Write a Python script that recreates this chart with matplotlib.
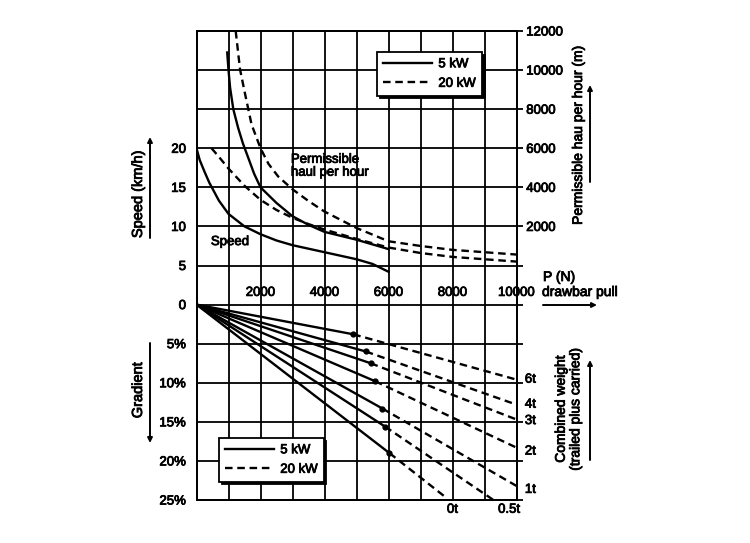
import matplotlib.pyplot as plt
import matplotlib.patheffects as pe
from matplotlib.lines import Line2D
from matplotlib.text import Text

# drawbar pull P (N) against speed (km/h)
pull_speed_5kw = [0, 100, 250, 400, 700, 1000, 1500, 2000, 2500, 3000, 4000, 5000, 5500, 6000]
speed_5kw = [20, 18.5, 17.0, 15.6, 13.3, 11.6, 10.0, 9.0, 8.2, 7.6, 6.7, 5.8, 5.2, 4.2]
pull_speed_20kw = [470, 700, 1000, 1500, 2000, 2500, 3000, 3500, 4000, 5000, 6000, 7000, 8000, 9000, 10000]
speed_20kw = [20, 18.9, 17.4, 15.2, 13.4, 12.1, 11.1, 10.3, 9.6, 8.4, 7.3, 6.6, 6.1, 5.8, 5.5]

# permissible haul per hour (m)
pull_haul_5kw = [960, 1000, 1050, 1150, 1300, 1450, 1620, 1800, 2000, 2500, 3000, 3500, 4000, 5000, 6000]
haul_5kw = [10900, 10000, 9100, 8000, 7050, 6250, 5500, 4700, 4000, 3200, 2520, 2080, 1720, 1320, 840]
pull_haul_20kw = [1225, 1360, 1520, 1720, 2000, 2250, 2550, 3000, 3500, 4000, 5000, 6000, 7000, 8000, 9000, 10000]
haul_20kw = [12000, 10040, 8760, 7220, 6000, 5200, 4560, 3900, 3300, 2760, 1920, 1240, 1000, 800, 680, 560]

# gradient (%) lines per combined weight: solid (5 kW) up to the dot, dashed (20 kW) after
weights = ['6t', '4t', '3t', '2t', '1t', '0.5t', '0t']
pull_switch = [4900, 5290, 5440, 5580, 5810, 5890, 6030]
grad_switch = [3.8, 6.0, 7.5, 9.8, 13.3, 15.6, 19.0]
pull_end = [10000, 10000, 10000, 10000, 10000, 9280, 7770]
grad_end = [9.6, 12.8, 14.7, 18.3, 23.2, 25.0, 24.6]
side_weights = ['6t', '4t', '3t', '2t', '1t']
side_weight_pos = [9.6, 12.8, 14.9, 18.8, 23.7]

speed_ticks = [0, 5, 10, 15, 20]
grad_ticks = [5, 10, 15, 20, 25]
haul_ticks = [2000, 4000, 6000, 8000, 10000, 12000]
pull_ticks = [2000, 4000, 6000, 8000, 10000]


def haul_y(h):
    # right scale: 0 m sits on speed 5, 2000 m per grid step
    return 5 + h / 400


plt.rcParams['font.family'] = ['Liberation Sans', 'DejaVu Sans']
plt.rcParams['font.size'] = 9.5

W, H = 750, 543
fig = plt.figure(figsize=(7.5, 5.43), dpi=100)
ax = fig.add_axes([196.5 / W, 43 / H, 320 / W, 469 / H])
ax.set_xlim(0, 10000)
ax.set_ylim(-25, 35)
ax.set_axisbelow(True)

gw = 1.3
ax.set_xticks(range(0, 10001, 1000))
ax.set_xticklabels([])
yt = list(range(-25, 36, 5))
ax.set_yticks(yt)
ax.set_yticklabels([f'{-v}%' if v < 0 else (str(v) if v <= 20 else '') for v in yt])
ax.tick_params(length=0)
ax.tick_params(axis='y', pad=7.5)
ax.grid(True, color='black', lw=gw)
for s in ax.spines.values():
    s.set_linewidth(gw)

ax2 = ax.twinx()
ax2.set_ylim(-25, 35)
ax2.set_yticks(yt)
ax2.set_yticklabels([str(h) if h in haul_ticks else '' for h in [(v - 5) * 400 for v in yt]])
ax2.tick_params(axis='y', direction='out', length=4, width=gw, pad=3)
for s in ax2.spines.values():
    s.set_linewidth(gw)

lw = 1.7
dash = (0, (3.2, 2.0))
ax.plot(pull_speed_5kw, speed_5kw, color='black', lw=lw)
ax.plot(pull_speed_20kw, speed_20kw, color='black', lw=lw, linestyle=dash)
ax.plot(pull_haul_5kw, [haul_y(h) for h in haul_5kw], color='black', lw=lw)
ax.plot(pull_haul_20kw, [haul_y(h) for h in haul_20kw], color='black', lw=lw, linestyle=dash)

for i in range(len(weights)):
    ax.plot([0, pull_switch[i]], [0, -grad_switch[i]], color='black', lw=lw)
    ax.plot([pull_switch[i], pull_end[i]], [-grad_switch[i], -grad_end[i]],
            color='black', lw=lw, linestyle=dash)
    ax.plot(pull_switch[i], -grad_switch[i], 'o', color='black', ms=3.5)

for p in pull_ticks:
    ax.text(p, 1.5, str(p), ha='center', va='center')

ax.text(2950, 17.7, 'Permissible\nhaul per hour', ha='left', va='center', linespacing=1.1)
ax.text(450, 8.0, 'Speed', ha='left', va='center')

for lab, g in zip(side_weights, side_weight_pos):
    ax.annotate(lab, xy=(1, -g), xycoords=('axes fraction', 'data'),
                xytext=(6, 0), textcoords='offset points', ha='left', va='center',
                annotation_clip=False)
ax.annotate('0t', xy=(8000, 0), xycoords=('data', 'axes fraction'), xytext=(0, -7),
            textcoords='offset points', ha='center', va='center', annotation_clip=False)
ax.annotate('0.5t', xy=(9770, 0), xycoords=('data', 'axes fraction'), xytext=(0, -7),
            textcoords='offset points', ha='center', va='center', annotation_clip=False)


def fp(x, y):
    return (x / W, 1 - y / H)


fig.text(*fp(138, 194), 'Speed (km/h)', rotation=90, ha='center', va='center', fontsize=10.5)
fig.text(*fp(138, 390), 'Gradient', rotation=90, ha='center', va='center', fontsize=10.5)
fig.text(*fp(578, 135), 'Permissible hau per hour (m)', rotation=90, ha='center', va='center',
         fontsize=10)
fig.text(*fp(568, 409), 'Combined weight\n(trailed plus carried)', rotation=90,
         ha='center', va='center', linespacing=1.05, fontsize=10)
fig.text(*fp(543, 277), 'P (N)', ha='left', va='center', fontsize=10)
fig.text(*fp(542, 292), 'drawbar pull', ha='left', va='center', fontsize=10)

arrows = [((150, 238), (150, 137)), ((150, 343), (150, 443)), ((590, 182), (590, 85)),
          ((590, 460), (590, 360)), ((543, 305), (597, 305))]
for start, end in arrows:
    ax.annotate('', xy=fp(*end), xycoords='figure fraction', xytext=fp(*start),
                textcoords='figure fraction', annotation_clip=False,
                arrowprops=dict(arrowstyle='-|>', color='black', lw=1.4,
                                mutation_scale=7, shrinkA=0, shrinkB=0))

handles = [Line2D([], [], color='black', lw=lw),
           Line2D([], [], color='black', lw=lw, linestyle=dash)]
shadow = {'facecolor': 'black', 'edgecolor': 'black', 'alpha': 1}
leg1 = ax2.legend(handles, ['5 kW', '20 kW'], loc='upper left', bbox_to_anchor=(0.564, 0.955),
                  borderaxespad=0, frameon=True, fancybox=False, edgecolor='black',
                  framealpha=1, shadow=shadow, handlelength=3.7, handletextpad=0.5,
                  labelspacing=0.55, borderpad=0.45)
leg1.get_frame().set_linewidth(gw)
ax2.add_artist(leg1)
leg2 = ax2.legend(handles, ['5 kW', '20 kW'], loc='upper left', bbox_to_anchor=(0.070, 0.132),
                  borderaxespad=0, frameon=True, fancybox=False, edgecolor='black',
                  framealpha=1, shadow=shadow, handlelength=3.7, handletextpad=0.5,
                  labelspacing=0.55, borderpad=0.45)
leg2.get_frame().set_linewidth(gw)

# the scanned lettering is heavier than a plain regular face
for t in fig.findobj(Text):
    t.set_path_effects([pe.withStroke(linewidth=0.6, foreground='black')])

fig.savefig('out.png', dpi=100)
